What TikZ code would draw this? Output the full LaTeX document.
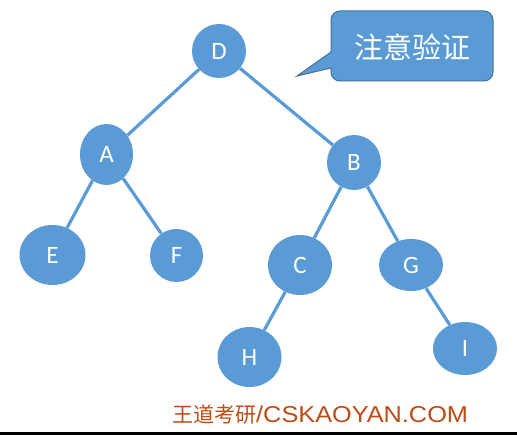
\documentclass[tikz,border=0pt]{standalone}
\usepackage{fontspec}
\usetikzlibrary{shapes.geometric}
\newfontfamily\latfont{Carlito}
\newfontfamily\cjkfont{Noto Sans CJK SC}
\newfontfamily\arialfont{Liberation Sans}
\definecolor{nodeblue}{HTML}{5B9BD5}
\definecolor{calloutborder}{HTML}{41719C}
\definecolor{brandorange}{RGB}{190,75,20}
\tikzset{
  treenode/.style={ellipse, fill=nodeblue, inner sep=0pt, text=white,
    font=\latfont\fontsize{25}{25}\selectfont},
  treeedge/.style={draw=nodeblue, line width=3.2pt},
  calloutshape/.style={fill=nodeblue, draw=calloutborder, line width=1pt, line join=miter},
}
\begin{document}
\begin{tikzpicture}[x=1pt,y=-1pt]
\useasboundingbox (0,0) rectangle (517,435);
% nodes
\node[treenode, minimum width=54pt, minimum height=54pt] (D) at (219,51) {D};
\node[treenode, minimum width=53pt, minimum height=61pt] (A) at (106.5,154.5) {A};
\node[treenode, minimum width=54pt, minimum height=55pt] (B) at (354,162.5) {B};
\node[treenode, minimum width=66pt, minimum height=60pt] (E) at (52.5,255) {E};
\node[treenode, minimum width=53pt, minimum height=53pt] (F) at (176.5,255.5) {F};
\node[treenode, minimum width=64pt, minimum height=60pt] (C) at (300,265) {C};
\node[treenode, minimum width=64pt, minimum height=52pt] (G) at (411,265) {G};
\node[treenode, minimum width=64pt, minimum height=60pt] (H) at (249.5,357) {H};
\node[treenode, minimum width=64pt, minimum height=53pt] (I) at (465,348.5) {I};
% edges
\draw[treeedge] (D) -- (A);
\draw[treeedge] (D) -- (B);
\draw[treeedge] (A) -- (E);
\draw[treeedge] (A) -- (F);
\draw[treeedge] (B) -- (C);
\draw[treeedge] (B) -- (G);
\draw[treeedge] (C) -- (H);
\draw[treeedge] (G) -- (I);
% callout
\draw[calloutshape] (412,11) [rounded corners=9pt] -- (331,11) -- (331,30) [sharp corners] -- (331,52) -- (297,76) -- (331,68) -- (331,71) [rounded corners=9pt] -- (331,81) -- (493,81) -- (493,11) -- cycle;
\node[text=white, font=\cjkfont\fontsize{29}{29}\selectfont, inner sep=0pt] (note) at (412,47) {注意验证};
% footer
\node[anchor=base west, inner sep=0pt, text=brandorange] (brand) at (172,423) {{\cjkfont\fontsize{21}{21}\selectfont 王道考研}\scalebox{1.1}[1]{\arialfont\fontsize{23}{23}\selectfont /CSKAOYAN.COM}};
\coordinate (lineL) at (0,433.5);
\coordinate (lineR) at (517,433.5);
\draw[black, line width=3pt] (lineL) -- (lineR);
\end{tikzpicture}
\end{document}
